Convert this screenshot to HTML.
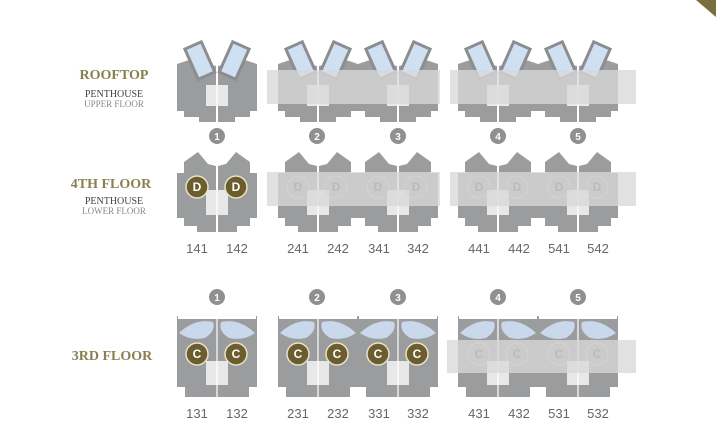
<!DOCTYPE html>
<html><head><meta charset="utf-8"><style>
html,body{margin:0;padding:0;background:#fff;width:716px;height:443px;overflow:hidden}
svg{display:block}
.h{font-family:"Liberation Serif",serif;font-weight:bold;fill:#8a7f4e;font-size:14px;text-anchor:middle}
.s{font-family:"Liberation Serif",serif;fill:#444;font-size:10px;text-anchor:middle}
.s2{font-family:"Liberation Serif",serif;fill:#888;font-size:9px;text-anchor:middle}
.n{font-family:"Liberation Sans",sans-serif;fill:#666;font-size:13px;text-anchor:middle}
.num{font-family:"Liberation Sans",sans-serif;font-weight:bold;fill:#fff;font-size:10px;text-anchor:middle}
.L{font-family:"Liberation Sans",sans-serif;font-weight:bold;fill:#fff;font-size:12px;text-anchor:middle}
.Lf{font-family:"Liberation Sans",sans-serif;font-weight:bold;fill:#bbb;font-size:12px;text-anchor:middle}
</style></head><body>
<svg width="716" height="443" viewBox="0 0 716 443">
<defs>
<g id="roof">
 <polygon fill="#9b9c9e" points="-40,64 -28,60 -1,66 -1,122 -18,122 -18,117 -33,117 -33,111 -40,111"/>
 <polygon fill="#9b9c9e" points="40,64 28,60 1,66 1,122 18,122 18,117 33,117 33,111 40,111"/>
 <g transform="translate(-17,61) rotate(-24)"><rect x="-9" y="-17" width="18" height="33" fill="#cfe0f3" stroke="#8c8d8f" stroke-width="3"/></g>
 <g transform="translate(17,61) rotate(24)"><rect x="-9" y="-17" width="18" height="33" fill="#cfe0f3" stroke="#8c8d8f" stroke-width="3"/></g>
 <rect x="-11" y="85" width="22" height="21" fill="#e8e8e8"/>
 <line x1="0" y1="55" x2="0" y2="122" stroke="#fff" stroke-width="1.2"/>
</g>
<g id="fourth">
 <polygon fill="#9b9c9e" points="-33,162 -19,152 -9,164 -1,166 -1,232 -20,232 -20,226 -33,226 -33,218 -40,218 -40,173 -33,173"/>
 <polygon fill="#9b9c9e" points="33,162 19,152 9,164 1,166 1,232 20,232 20,226 33,226 33,218 40,218 40,173 33,173"/>
 <rect x="-11" y="190" width="22" height="25" fill="#e8e8e8"/>
 <line x1="0" y1="160" x2="0" y2="232" stroke="#fff" stroke-width="1.2"/>
</g>
<g id="third">
 <rect x="-40" y="319" width="80" height="68" fill="#9b9c9e"/>
 <rect x="-32" y="386" width="64" height="11" fill="#9b9c9e"/>
 <rect x="-40" y="316" width="1" height="8" fill="#9b9c9e"/>
 <rect x="39" y="316" width="1" height="8" fill="#9b9c9e"/>
 <path d="M-38,333 Q-22,318 -4,322 Q-1,331 -12,338 Q-27,341 -38,333Z" fill="#c9d8ea"/>
 <path d="M38,333 Q22,318 4,322 Q1,331 12,338 Q27,341 38,333Z" fill="#c9d8ea"/>
 <rect x="-11" y="361" width="22" height="24" fill="#e8e8e8"/>
 <line x1="0" y1="306" x2="0" y2="397" stroke="#fff" stroke-width="1.2"/>
</g>
</defs>

<polygon points="696,0 716,0 716,17" fill="#7a6e3c"/>

<text class="h" x="114" y="79">ROOFTOP</text>
<text class="s" x="114" y="97">PENTHOUSE</text>
<text class="s2" x="114" y="107">UPPER FLOOR</text>
<text class="h" x="111" y="188">4TH FLOOR</text>
<text class="s" x="114" y="204">PENTHOUSE</text>
<text class="s2" x="114" y="214">LOWER FLOOR</text>
<text class="h" x="112" y="360">3RD FLOOR</text>

<use href="#roof" x="217"/><use href="#roof" x="318"/><use href="#roof" x="398"/><use href="#roof" x="498"/><use href="#roof" x="578"/>
<rect x="267" y="70" width="173" height="34" fill="#d8d8d8" opacity="0.78"/>
<rect x="450" y="70" width="186" height="34" fill="#d8d8d8" opacity="0.78"/>

<g fill="#8f9092">
<circle cx="217" cy="136" r="8"/><circle cx="317" cy="136" r="8"/><circle cx="398" cy="136" r="8"/><circle cx="498" cy="136" r="8"/><circle cx="578" cy="136" r="8"/>
</g>
<text class="num" x="217" y="140">1</text><text class="num" x="317" y="140">2</text><text class="num" x="398" y="140">3</text><text class="num" x="498" y="140">4</text><text class="num" x="578" y="140">5</text>

<use href="#fourth" x="217"/><use href="#fourth" x="318"/><use href="#fourth" x="398"/><use href="#fourth" x="498"/><use href="#fourth" x="578"/>
<g fill="#6b5d2e" stroke="#e8e2c8" stroke-width="1.5"><circle cx="197" cy="187" r="11"/><circle cx="236" cy="187" r="11"/></g>
<text class="L" x="197" y="191">D</text><text class="L" x="236" y="191">D</text>
<g fill="none" stroke="#c0c0c0" stroke-width="1"><circle cx="298" cy="187" r="11"/><circle cx="336" cy="187" r="11"/><circle cx="378" cy="187" r="11"/><circle cx="416" cy="187" r="11"/><circle cx="479" cy="187" r="11"/><circle cx="517" cy="187" r="11"/><circle cx="559" cy="187" r="11"/><circle cx="597" cy="187" r="11"/></g>
<rect x="267" y="172" width="173" height="34" fill="#d8d8d8" opacity="0.78"/>
<rect x="450" y="172" width="186" height="34" fill="#d8d8d8" opacity="0.78"/>
<text class="Lf" x="298" y="191">D</text><text class="Lf" x="336" y="191">D</text><text class="Lf" x="378" y="191">D</text><text class="Lf" x="416" y="191">D</text><text class="Lf" x="479" y="191">D</text><text class="Lf" x="517" y="191">D</text><text class="Lf" x="559" y="191">D</text><text class="Lf" x="597" y="191">D</text>

<text class="n" x="197" y="253">141</text><text class="n" x="237" y="253">142</text>
<text class="n" x="298" y="253">241</text><text class="n" x="338" y="253">242</text>
<text class="n" x="379" y="253">341</text><text class="n" x="418" y="253">342</text>
<text class="n" x="479" y="253">441</text><text class="n" x="519" y="253">442</text>
<text class="n" x="559" y="253">541</text><text class="n" x="598" y="253">542</text>

<g fill="#8f9092">
<circle cx="217" cy="297" r="8"/><circle cx="317" cy="297" r="8"/><circle cx="398" cy="297" r="8"/><circle cx="498" cy="297" r="8"/><circle cx="578" cy="297" r="8"/>
</g>
<text class="num" x="217" y="301">1</text><text class="num" x="317" y="301">2</text><text class="num" x="398" y="301">3</text><text class="num" x="498" y="301">4</text><text class="num" x="578" y="301">5</text>

<use href="#third" x="217"/><use href="#third" x="318"/><use href="#third" x="398"/><use href="#third" x="498"/><use href="#third" x="578"/>
<g fill="#6b5d2e" stroke="#e8e2c8" stroke-width="1.5"><circle cx="197" cy="354" r="11"/><circle cx="236" cy="354" r="11"/><circle cx="298" cy="354" r="11"/><circle cx="337" cy="354" r="11"/><circle cx="378" cy="354" r="11"/><circle cx="417" cy="354" r="11"/></g>
<text class="L" x="197" y="358">C</text><text class="L" x="236" y="358">C</text><text class="L" x="298" y="358">C</text><text class="L" x="337" y="358">C</text><text class="L" x="378" y="358">C</text><text class="L" x="417" y="358">C</text>
<g fill="none" stroke="#c0c0c0"><circle cx="479" cy="354" r="11"/><circle cx="517" cy="354" r="11"/><circle cx="559" cy="354" r="11"/><circle cx="597" cy="354" r="11"/></g>
<rect x="447" y="340" width="189" height="33" fill="#d8d8d8" opacity="0.78"/>
<text class="Lf" x="479" y="358">C</text><text class="Lf" x="517" y="358">C</text><text class="Lf" x="559" y="358">C</text><text class="Lf" x="597" y="358">C</text>

<text class="n" x="197" y="418">131</text><text class="n" x="237" y="418">132</text>
<text class="n" x="298" y="418">231</text><text class="n" x="338" y="418">232</text>
<text class="n" x="379" y="418">331</text><text class="n" x="418" y="418">332</text>
<text class="n" x="479" y="418">431</text><text class="n" x="519" y="418">432</text>
<text class="n" x="559" y="418">531</text><text class="n" x="598" y="418">532</text>
</svg>
</body></html>
